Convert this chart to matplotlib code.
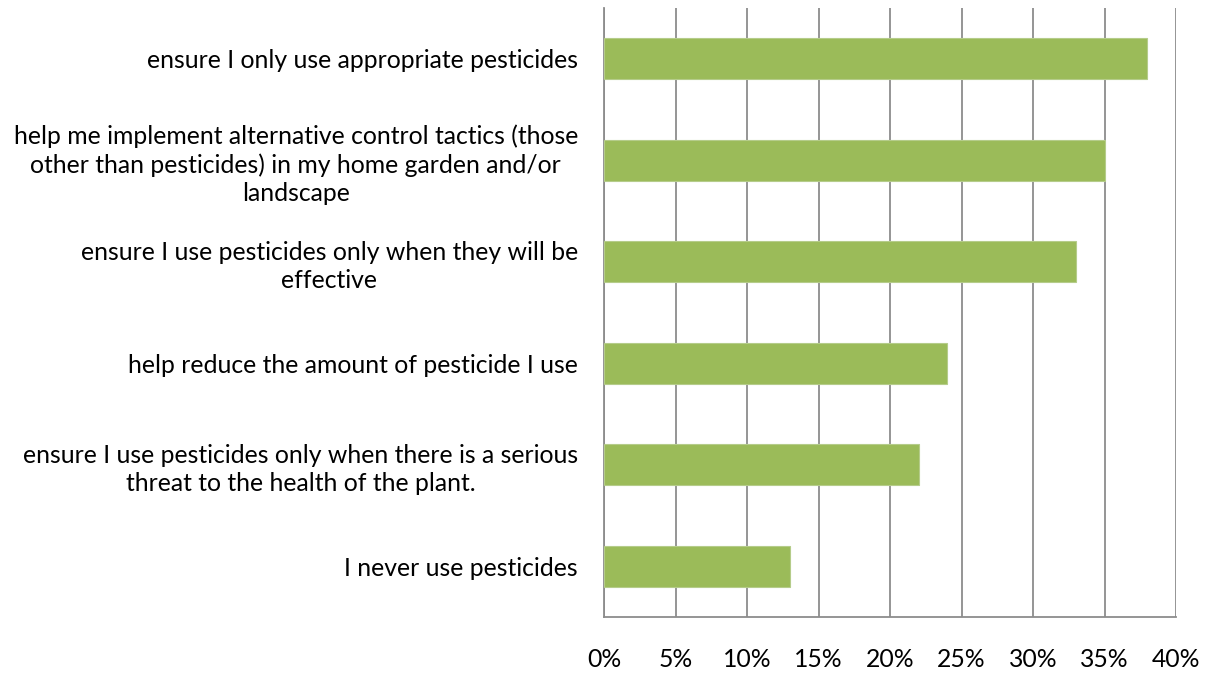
import numpy as np
import matplotlib.pyplot as plt

plt.rcParams['font.family'] = ['Lato', 'DejaVu Sans']

# survey answers, top to bottom as shown
labels = [
    "ensure I only use appropriate pesticides",
    "help me implement alternative control tactics (those\nother than pesticides) in my home garden and/or\nlandscape",
    "ensure I use pesticides only when they will be\neffective",
    "help reduce the amount of pesticide I use",
    "ensure I use pesticides only when there is a serious\nthreat to the health of the plant.",
    "I never use pesticides",
]
values = [38, 35, 33, 24, 22, 13]  # percent
xticks = [0, 5, 10, 15, 20, 25, 30, 35, 40]

BAR_COLOR = '#9BBB59'
GRID_COLOR = '#8C8C8C'
FS = 17.8

fig = plt.figure(figsize=(12.05, 6.73), dpi=100)
ax = fig.add_axes([604/1205, 1 - 617/673, (1176-604)/1205, (617-8)/673])

y = np.arange(len(values))
ax.barh(y, values, height=0.4, color=BAR_COLOR, edgecolor='#B5CC8A', linewidth=0.8, zorder=3)
ax.set_ylim(len(values) - 0.5, -0.5)
ax.set_xlim(0, 40)

ax.set_xticks(xticks)
ax.set_xticklabels([f"{t}%" for t in xticks], fontsize=FS)
ax.tick_params(axis='x', length=0, pad=22)
ax.xaxis.grid(True, color=GRID_COLOR, linewidth=1.3, zorder=0)

ax.set_yticks(y)
ax.set_yticklabels(labels, fontsize=FS, ha='right', multialignment='center', linespacing=1.27)
ax.tick_params(axis='y', length=0, pad=18.7)

for s in ['top', 'right']:
    ax.spines[s].set_visible(False)
for s in ['left', 'bottom']:
    ax.spines[s].set_color(GRID_COLOR)
    ax.spines[s].set_linewidth(1.3)

fig.savefig('out.png', dpi=100)
